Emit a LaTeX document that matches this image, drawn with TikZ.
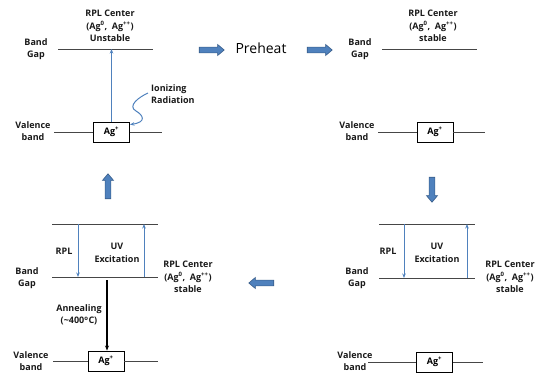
\documentclass[tikz,border=0pt]{standalone}
\usepackage{fontspec}
\setmainfont{Open Sans}
\usetikzlibrary{arrows.meta,shapes.arrows}
\definecolor{lineblue}{RGB}{79,129,189}
\definecolor{arrfill}{RGB}{79,129,189}
\definecolor{arrdraw}{RGB}{56,93,138}
\definecolor{bandcol}{RGB}{70,70,70}
\tikzset{
  band/.style={draw=bandcol, line width=0.8pt},
  lbl/.style={font=\fontsize{9}{12.5}\selectfont\bfseries, align=center, inner sep=0pt, text=black!90},
  agbox/.style={draw=black, line width=0.9pt, minimum width=36pt, minimum height=20pt, inner sep=0pt, font=\fontsize{9}{10}\selectfont\bfseries},
  thinarrow/.style={draw=lineblue, line width=1pt, -{Stealth[length=4.5pt,width=3.5pt]}},
  blackarrow/.style={draw=black, line width=1.1pt, -{Stealth[length=5pt,width=4pt]}},
  blockarrow/.style={single arrow, draw=arrdraw, fill=arrfill, line width=0.6pt, minimum height=25pt, minimum width=11pt, single arrow head extend=2.7pt, inner sep=2.6pt, single arrow tip angle=80}
}
\begin{document}
\begin{tikzpicture}[x=1pt,y=-1pt]
\useasboundingbox (0,0) rectangle (542,375);
% ---------- Panel 1 ----------
\coordinate (g1l) at (58,49);
\coordinate (g1r) at (153,49);
\draw[band] (g1l) -- (g1r);
\node[lbl] (bg1) at (36,49) {Band\\Gap};
\node[lbl] (rc1) at (110,26) {RPL Center\\(Ag\textsuperscript{0},\ \ Ag\textsuperscript{++})\\Unstable};
\node[agbox] (b1) at (111.5,132) {Ag\textsuperscript{+}};
\coordinate (v1l) at (54,132);
\coordinate (v1r) at (162,132);
\draw[band] (v1l) -- (b1.west);
\draw[band] (b1.east) -- (v1r);
\node[lbl] (vb1) at (33,131) {Valence\\band};
\draw[thinarrow] (b1.north) -- (b1.north |- g1l);
\node[lbl, align=left, anchor=west] (ion) at (151,94) {Ionizing\\Radiation};
\coordinate (w1) at (148,93);
\draw[thinarrow] (w1) .. controls (139,97) and (127,106) .. (136,111)
  .. controls (143,115) and (147,122) .. ([yshift=-3pt]b1.north east);
% ---------- arrows between top panels ----------
\node[blockarrow] (a1) at (210,50) {};
\node[font=\fontsize{14}{16}\selectfont, inner sep=0pt] (pre) at (261,48) {Preheat};
\node[blockarrow] (a2) at (318,50) {};
% ---------- Panel 2 ----------
\coordinate (g2l) at (382,49);
\coordinate (g2r) at (477,49);
\draw[band] (g2l) -- (g2r);
\node[lbl] (bg2) at (360,49) {Band\\Gap};
\node[lbl] (rc2) at (433,26) {RPL Center\\(Ag\textsuperscript{0},\ \ Ag\textsuperscript{++})\\stable};
\node[agbox] (b2) at (435,132) {Ag\textsuperscript{+}};
\coordinate (v2l) at (378,132);
\coordinate (v2r) at (485,132);
\draw[band] (v2l) -- (b2.west);
\draw[band] (b2.east) -- (v2r);
\node[lbl] (vb2) at (357,131) {Valence\\band};
% ---------- vertical / left block arrows ----------
\node[blockarrow, rotate=-90] (a3) at (432,188) {};
\node[blockarrow, rotate=180] (a4) at (263,283) {};
\node[blockarrow, rotate=90] (a5) at (108,188) {};
% ---------- Panel 4 (bottom right) ----------
\coordinate (t4l) at (379,224);
\coordinate (t4r) at (475,224);
\coordinate (g4l) at (379,278);
\coordinate (g4r) at (475,278);
\draw[band] (t4l) -- (t4r);
\draw[band] (g4l) -- (g4r);
\coordinate (r4t) at (404,224);
\coordinate (r4b) at (404,278);
\coordinate (u4t) at (467,224);
\coordinate (u4b) at (467,278);
\draw[thinarrow] (r4t) -- (r4b);
\draw[thinarrow] (u4b) -- (u4t);
\node[lbl] (rpl4) at (388,251) {RPL};
\node[lbl] (uv4) at (437,253) {UV\\Excitation};
\node[lbl] (bg4) at (357,278) {Band\\Gap};
\node[lbl] (rc4) at (510,277) {RPL Center\\(Ag\textsuperscript{0},\ \ Ag\textsuperscript{++})\\stable};
\node[agbox] (b4) at (434.5,362) {Ag\textsuperscript{+}};
\coordinate (v4l) at (368,362);
\coordinate (v4r) at (483,362);
\draw[band] (v4l) -- (b4.west);
\draw[band] (b4.east) -- (v4r);
\node[lbl] (vb4) at (355,361) {Valence\\band};
% ---------- Panel 3 (bottom left) ----------
\coordinate (t3l) at (52,224);
\coordinate (t3r) at (158,224);
\coordinate (g3l) at (52,277);
\coordinate (g3r) at (158,277);
\draw[band] (t3l) -- (t3r);
\draw[band] (g3l) -- (g3r);
\coordinate (r3t) at (78,224);
\coordinate (r3b) at (78,277);
\coordinate (u3t) at (144,224);
\coordinate (u3b) at (144,277);
\draw[thinarrow] (r3t) -- (r3b);
\draw[thinarrow] (u3b) -- (u3t);
\node[lbl] (rpl3) at (64,251) {RPL};
\node[lbl] (uv3) at (117,253) {UV\\Excitation};
\node[lbl] (bg3) at (27,278) {Band\\Gap};
\node[lbl] (rc3) at (188,277) {RPL Center\\(Ag\textsuperscript{0},\ \ Ag\textsuperscript{++})\\stable};
\node[agbox] (b3) at (106,361) {Ag\textsuperscript{+}};
\coordinate (v3l) at (53,361);
\coordinate (v3r) at (158,361);
\draw[band] (v3l) -- (b3.west);
\draw[band] (b3.east) -- (v3r);
\node[lbl] (vb3) at (31,361) {Valence\\band};
\coordinate (an3) at (107,280);
\draw[blackarrow] (an3) -- (an3 |- b3.north);
\node[lbl] (ann) at (79,315) {Annealing\\(\textasciitilde400\textsuperscript{o}C)};
\end{tikzpicture}
\end{document}
